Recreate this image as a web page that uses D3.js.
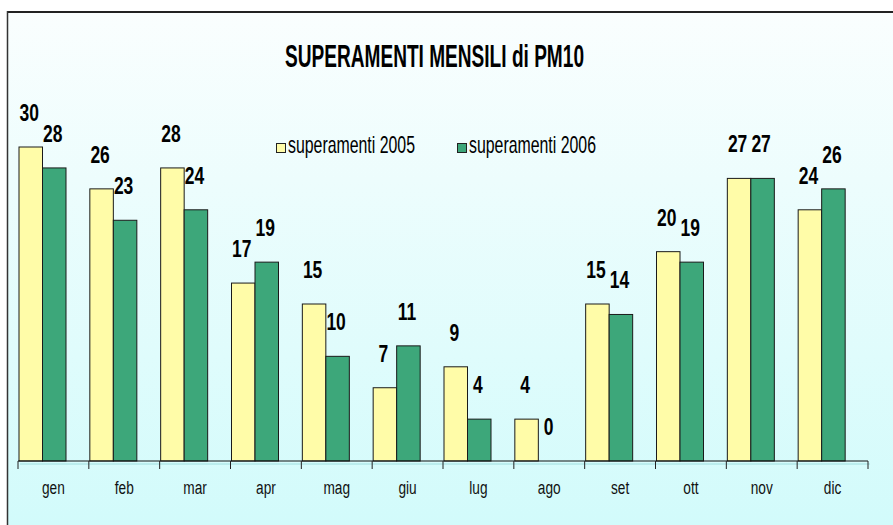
<!DOCTYPE html>
<html>
<head>
<meta charset="utf-8">
<script src="https://cdn.jsdelivr.net/npm/d3@7"></script>
<style>
  html, body { margin: 0; padding: 0; background: #ffffff; }
  svg { display: block; }
</style>
</head>
<body>
<div id="chart"></div>
<script>
// chart data
const months = ['gen', 'feb', 'mar', 'apr', 'mag', 'giu', 'lug', 'ago', 'set', 'ott', 'nov', 'dic'];
const values2005 = [30, 26, 28, 17, 15, 7, 9, 4, 15, 20, 27, 24];
const values2006 = [28, 23, 24, 19, 10, 11, 4, 0, 14, 19, 27, 26];
const seriesNames = ['superamenti 2005', 'superamenti 2006'];
const titleText = 'SUPERAMENTI MENSILI di PM10';

const width = 893;
const height = 525;
const colors = ['#fffca8', '#3da77a'];

const svg = d3.select('#chart')
  .append('svg')
  .attr('width', width)
  .attr('height', height);

// background gradient
const defs = svg.append('defs');
const grad = defs.append('linearGradient')
  .attr('id', 'bg')
  .attr('x1', 0).attr('y1', 0)
  .attr('x2', 0).attr('y2', 1);
grad.append('stop').attr('offset', '0%').attr('stop-color', '#fafefe');
grad.append('stop').attr('offset', '100%').attr('stop-color', '#d2fbfb');

svg.append('rect')
  .attr('x', 7).attr('y', 12)
  .attr('width', width - 7).attr('height', height - 12)
  .attr('fill', 'url(#bg)');

// frame (top and left edges visible)
svg.append('line')
  .attr('x1', 7).attr('x2', width)
  .attr('y1', 12).attr('y2', 12)
  .attr('stroke', '#222').attr('stroke-width', 2);
svg.append('line')
  .attr('x1', 7.5).attr('x2', 7.5)
  .attr('y1', 11).attr('y2', height)
  .attr('stroke', '#333').attr('stroke-width', 1.5);

// scales
const x = d3.scaleBand()
  .domain(months)
  .range([18, 868])
  .paddingInner(0)
  .paddingOuter(0);

const xSub = d3.scaleBand()
  .domain([0, 1])
  .range([1, 48]);

const y = d3.scaleLinear()
  .domain([0, 30])
  .range([461, 147]);

// title
svg.append('text')
  .attr('x', 285)
  .attr('y', 66.5)
  .attr('textLength', 299)
  .attr('lengthAdjust', 'spacingAndGlyphs')
  .style('font-family', '"Liberation Sans", Arial, sans-serif')
  .style('font-weight', 700)
  .style('font-size', '31px')
  .style('fill', '#000')
  .text(titleText);

// bars
const series = [values2005, values2006];
series.forEach((vals, s) => {
  svg.append('g')
    .selectAll('rect')
    .data(vals)
    .enter()
    .append('rect')
    .attr('x', (d, i) => x(months[i]) + xSub(s))
    .attr('y', d => y(d))
    .attr('width', xSub.bandwidth())
    .attr('height', d => y(0) - y(d))
    .attr('fill', colors[s])
    .attr('stroke', d => d > 0 ? '#1a1a1a' : 'none')
    .attr('stroke-width', 1);
});

// value labels
series.forEach((vals, s) => {
  svg.append('g')
    .selectAll('text')
    .data(vals)
    .enter()
    .append('text')
    .attr('transform', (d, i) => {
      const cx = x(months[i]) + xSub(s) + xSub.bandwidth() / 2 - 1.5;
      return `translate(${cx},${y(d) - 26}) scale(0.76,1)`;
    })
    .attr('text-anchor', 'middle')
    .style('font-family', '"Liberation Sans", Arial, sans-serif')
    .style('font-weight', 700)
    .style('font-size', '23px')
    .style('fill', '#000')
    .text(d => d);
});

// x axis
const axisY = y(0);
svg.append('line')
  .attr('x1', 20).attr('x2', 870)
  .attr('y1', axisY + 3).attr('y2', axisY + 3)
  .attr('stroke', '#9fdede').attr('stroke-width', 1);

svg.append('line')
  .attr('x1', 18).attr('x2', 868)
  .attr('y1', axisY).attr('y2', axisY)
  .attr('stroke', '#111').attr('stroke-width', 1.2);

const tickPos = months.map(m => x(m)).concat([x.range()[1]]);
svg.append('g')
  .selectAll('line')
  .data(tickPos)
  .enter()
  .append('line')
  .attr('x1', d => d).attr('x2', d => d)
  .attr('y1', axisY).attr('y2', axisY + 8)
  .attr('stroke', '#222').attr('stroke-width', 1);

svg.append('g')
  .selectAll('text')
  .data(months)
  .enter()
  .append('text')
  .attr('transform', d => `translate(${x(d) + x.bandwidth() / 2},${494}) scale(0.72,1)`)
  .attr('text-anchor', 'middle')
  .style('font-family', '"Liberation Sans", Arial, sans-serif')
  .style('font-size', '19px')
  .style('fill', '#111')
  .text(d => d);

// legend
const legendItems = [
  { name: seriesNames[0], color: colors[0], sx: 276, tx: 288 },
  { name: seriesNames[1], color: colors[1], sx: 457, tx: 469 }
];
const legend = svg.append('g').attr('class', 'legend');
legendItems.forEach(item => {
  legend.append('rect')
    .attr('x', item.sx + 0.5).attr('y', 143.5)
    .attr('width', 9).attr('height', 9)
    .attr('fill', item.color)
    .attr('stroke', '#222').attr('stroke-width', 1);
  legend.append('text')
    .attr('x', item.tx)
    .attr('y', 153)
    .attr('textLength', 127)
    .attr('lengthAdjust', 'spacingAndGlyphs')
    .style('font-family', '"Liberation Sans", Arial, sans-serif')
    .style('font-size', '24px')
    .style('fill', '#000')
    .text(item.name);
});
</script>
</body>
</html>
